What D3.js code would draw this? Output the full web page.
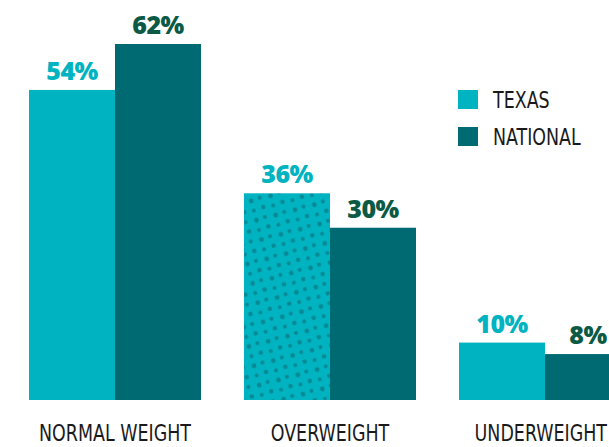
<!DOCTYPE html>
<html><head><meta charset="utf-8">
<script src="https://cdn.jsdelivr.net/npm/d3@7"></script>
<style>
html,body{margin:0;padding:0;background:#fff;}
svg{display:block;}
.cat text,.leg{font-family:"DejaVu Sans Condensed","DejaVu Sans",sans-serif;font-stretch:condensed;font-size:22.5px;fill:#1a1a1a;}
.val{font-family:"Open Sans",Lato,sans-serif;font-weight:800;font-size:25px;text-anchor:middle;letter-spacing:-0.5px;}
</style></head>
<body>
<script>
const categories = ["NORMAL WEIGHT", "OVERWEIGHT", "UNDERWEIGHT"];
const seriesNames = ["TEXAS", "NATIONAL"];
const texasValues = [54, 36, 10];
const nationalValues = [62, 30, 8];
const patterned = [false, true, false]; // Texas overweight bar carries a dot pattern

const W = 609, H = 447;
const colors = {TEXAS: "#00b3c0", NATIONAL: "#006a73"};
const labelColors = {TEXAS: "#00b3c0", NATIONAL: "#0c5a45"};

const svg = d3.select("body").append("svg").attr("width", W).attr("height", H);

const defs = svg.append("defs");
const pat = defs.append("pattern").attr("id", "dots").attr("patternUnits", "userSpaceOnUse")
  .attr("width", 20).attr("height", 20).attr("patternTransform", "rotate(-15)");
pat.append("rect").attr("x", -1).attr("y", -1).attr("width", 22).attr("height", 22).attr("fill", colors.TEXAS);
[[5,5,2.3],[15,6,2.0],[4,15,2.1],[15,16,2.4]].forEach(([cx,cy,r]) => {
  pat.append("circle").attr("cx", cx).attr("cy", cy).attr("r", r).attr("fill", "#088a96");
});

const x0 = d3.scaleBand().domain(categories).range([29, 631]).paddingInner(0.2).paddingOuter(0);
const x1 = d3.scaleBand().domain(seriesNames).range([0, x0.bandwidth()]).padding(0);
const y = d3.scaleLinear().domain([0, 62]).range([400, 44]);

const data = categories.map((c, i) => ({
  cat: c,
  vals: [
    {s: "TEXAS", v: texasValues[i], pattern: patterned[i]},
    {s: "NATIONAL", v: nationalValues[i], pattern: false}
  ]
}));

const g = svg.selectAll("g.grp").data(data).join("g").attr("class", "grp")
  .attr("transform", d => `translate(${x0(d.cat)},0)`);

g.selectAll("rect").data(d => d.vals).join("rect")
  .attr("x", d => x1(d.s))
  .attr("width", x1.bandwidth())
  .attr("y", d => y(d.v))
  .attr("height", d => y(0) - y(d.v))
  .attr("fill", d => d.pattern ? "url(#dots)" : colors[d.s]);

g.selectAll("text.val").data(d => d.vals).join("text").attr("class", "val")
  .attr("x", d => x1(d.s) + x1.bandwidth() / 2)
  .attr("y", d => y(d.v) - 10)
  .attr("fill", d => labelColors[d.s])
  .text(d => d.v + "%");

const axis = d3.axisBottom(x0).tickSize(0).tickPadding(25);
const ax = svg.append("g").attr("class", "cat").attr("transform", "translate(0,400)").call(axis)
  .call(s => s.select(".domain").remove());

// condense category labels to the reference's narrow typeface width
const ref = ax.select(".tick text").node();
const k = Math.min(1, 152 / ref.getComputedTextLength());
ax.selectAll(".tick").each(function(d) {
  const t = d3.select(this).select("text");
  const w = t.node().getComputedTextLength() * k;
  const cx = x0(d) + x0.bandwidth() / 2;
  const shift = Math.min(0, (W - 2) - (cx + w / 2));
  t.attr("transform", `translate(${shift},0) scale(${k},1)`);
});

const leg = svg.append("g").attr("transform", "translate(458,90)");
const li = leg.selectAll("g").data(seriesNames).join("g")
  .attr("transform", (d, i) => `translate(0,${i * 37})`);
li.append("rect").attr("width", 20).attr("height", 19).attr("fill", d => colors[d]);
li.append("text").attr("class", "leg").attr("transform", `translate(35,18) scale(${k},1)`).text(d => d);
</script>
</body></html>
